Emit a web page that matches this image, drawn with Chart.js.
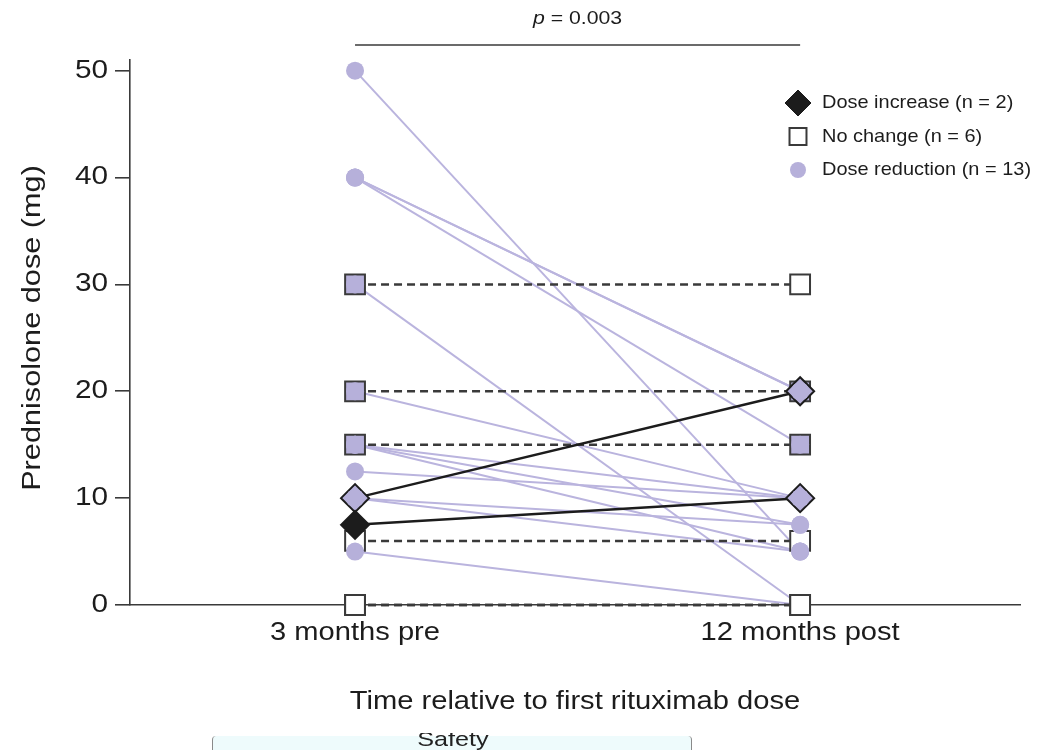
<!DOCTYPE html>
<html>
<head>
<meta charset="utf-8">
<title>Prednisolone dose before and after rituximab</title>
<script src="https://cdn.jsdelivr.net/npm/chart.js@4.4.1/dist/chart.umd.min.js"></script>
<style>
  html, body { margin: 0; padding: 0; background: #ffffff; }
  #wrap { position: relative; width: 1046px; height: 750px; overflow: hidden; }
  #chart { position: absolute; left: 0; top: 0; }
  #next { position: absolute; left: 206px; top: 733px; width: 494px; height: 17px; overflow: hidden; }
  #next .box { position: absolute; left: 6px; top: 3px; width: 478px; height: 40px;
    background: #eefbfc; border-left: 1px solid #8a8a8a; border-right: 1px solid #8a8a8a; border-radius: 4px; }
  #next .txt { position: absolute; left: 0; width: 494px; top: -6px; text-align: center;
    font: 21px "Liberation Sans", Arial, sans-serif; color: #222; transform: scaleX(1.2); }
</style>
</head>
<body>
<div id="wrap">
  <canvas id="chart" width="1046" height="750"></canvas>
  <div id="next"><div class="box"></div><div class="txt">Safety</div></div>
</div>
<script>
// Time points on the x axis
const timepoints = ['3 months pre', '12 months post'];
// Dose axis ticks (mg)
const doseTicks = [0, 10, 20, 30, 40, 50];

// Patients whose dose went up
const increasePre  = [10, 7.5];
const increasePost = [20, 10];
// Patients with unchanged dose
const noChangePre  = [30, 20, 15, 6, 0, 0];
const noChangePost = [30, 20, 15, 6, 0, 0];
// Patients whose dose went down
const reductionPre  = [50, 40, 40, 40, 30, 20, 15, 15, 15, 12.5, 10, 10, 5];
const reductionPost = [5, 20, 20, 15, 0, 10, 10, 7.5, 5, 10, 5, 7.5, 0];

const pValueText = '0.003';

const LAVENDER = '#b6b0da';
const LAVENDER_LINE = '#bab4de';
const INK = '#1c1c1c';
const GREY = '#3a3a3a';
const FONT = '"Liberation Sans", Arial, sans-serif';

const groups = {
  increase: { label: `Dose increase (n = ${increasePre.length})`, pre: increasePre, post: increasePost },
  noChange: { label: `No change (n = ${noChangePre.length})`, pre: noChangePre, post: noChangePost },
  reduction: { label: `Dose reduction (n = ${reductionPre.length})`, pre: reductionPre, post: reductionPost }
};

// Does a visible dose-reduction marker sit at this time point / dose?
// (reductions to 0 mg end under the white baseline squares)
function hasReduction(t, v) {
  const arr = t === 0 ? reductionPre : reductionPost;
  return v > 0 && arr.includes(v);
}

function pairLines(pre, post, style) {
  return pre.map((v, i) => Object.assign({
    type: 'line',
    data: [{ x: 0, y: v }, { x: 1, y: post[i] }],
    pointRadius: 0,
    fill: false,
    tension: 0,
    clip: false
  }, style));
}

function markerPoints(pre, post) {
  return pre.map(v => ({ x: 0, y: v })).concat(post.map(v => ({ x: 1, y: v })));
}

const incPts = markerPoints(increasePre, increasePost);
const ncPts = markerPoints(noChangePre, noChangePost);
const redPts = markerPoints(reductionPre, reductionPost);

// lower order is painted later (on top): lines first, then squares, diamonds, circles
const datasets = [
  ...pairLines(reductionPre, reductionPost, { borderColor: LAVENDER_LINE, borderWidth: 2, order: 6 }),
  ...pairLines(noChangePre, noChangePost, { borderColor: GREY, borderWidth: 2.5, borderDash: [8, 5], order: 5 }),
  ...pairLines(increasePre, increasePost, { borderColor: INK, borderWidth: 2.5, order: 4 }),
  {
    type: 'scatter', data: ncPts, order: 3, clip: false,
    pointStyle: 'rect', pointRadius: 14, pointBorderWidth: 2, pointBorderColor: GREY,
    pointBackgroundColor: ncPts.map(p => hasReduction(p.x, p.y) ? LAVENDER : '#ffffff')
  },
  {
    type: 'scatter', data: incPts, order: 2, clip: false,
    pointStyle: 'rectRot', pointRadius: 14, pointBorderWidth: 2, pointBorderColor: INK,
    pointBackgroundColor: incPts.map(p => hasReduction(p.x, p.y) ? LAVENDER : INK)
  },
  {
    type: 'scatter', data: redPts, order: 1, clip: false,
    pointStyle: 'circle', pointRadius: redPts.map(p => p.y > 0 ? 9 : 0), pointBorderWidth: 0,
    pointBackgroundColor: LAVENDER, pointBorderColor: LAVENDER
  }
];

// Wide sans text, drawn with a horizontal stretch
function stretchText(ctx, text, x, y, size, sx, align, opts = {}) {
  ctx.save();
  ctx.font = `${opts.italic ? 'italic ' : ''}${size}px ${FONT}`;
  ctx.fillStyle = opts.color || INK;
  ctx.textAlign = align;
  ctx.textBaseline = opts.baseline || 'middle';
  ctx.translate(x, y);
  if (opts.rotate) ctx.rotate(opts.rotate);
  ctx.scale(sx, 1);
  ctx.fillText(text, 0, 0);
  ctx.restore();
}

const textPlugin = {
  id: 'textLayer',
  afterDraw(chart) {
    const ctx = chart.ctx;
    const xs = chart.scales.x, ys = chart.scales.y;
    const area = chart.chartArea;

    // y tick labels
    ys.ticks.forEach(t => {
      stretchText(ctx, String(t.value), 108, ys.getPixelForValue(t.value), 25, 1.19, 'right');
    });
    // x tick labels
    xs.ticks.forEach(t => {
      stretchText(ctx, timepoints[t.value], xs.getPixelForValue(t.value), 633, 26, 1.12, 'center');
    });
    // axis titles
    stretchText(ctx, 'Time relative to first rituximab dose', (area.left + area.right) / 2, 702, 26, 1.12, 'center');
    stretchText(ctx, 'Prednisolone dose (mg)', 33, 328, 26, 1.18, 'center', { rotate: -Math.PI / 2 });

    // significance bar between the two time points
    const x0 = xs.getPixelForValue(0), x1 = xs.getPixelForValue(1);
    ctx.save();
    ctx.strokeStyle = GREY;
    ctx.lineWidth = 1.6;
    ctx.beginPath();
    ctx.moveTo(x0, 45);
    ctx.lineTo(x1, 45);
    ctx.stroke();
    ctx.restore();
    // p-value label, italic p
    ctx.save();
    const sx = 1.18, size = 18;
    ctx.font = `italic ${size}px ${FONT}`;
    const wP = ctx.measureText('p').width * sx;
    ctx.font = `${size}px ${FONT}`;
    const rest = ' = ' + pValueText;
    const wR = ctx.measureText(rest).width * sx;
    ctx.restore();
    const start = (x0 + x1) / 2 - (wP + wR) / 2;
    stretchText(ctx, 'p', start, 19, size, sx, 'left', { italic: true });
    stretchText(ctx, rest, start + wP, 19, size, sx, 'left');

    // legend
    const items = [
      { g: groups.increase, style: 'rectRot', r: 13, fill: INK, stroke: INK, bw: 1 },
      { g: groups.noChange, style: 'rect', r: 12, fill: '#ffffff', stroke: GREY, bw: 2 },
      { g: groups.reduction, style: 'circle', r: 8, fill: LAVENDER, stroke: LAVENDER, bw: 0 }
    ];
    const lx = 798, ly = 103, step = 33.5;
    items.forEach((it, i) => {
      const y = ly + i * step;
      ctx.save();
      ctx.fillStyle = it.fill;
      ctx.strokeStyle = it.stroke;
      ctx.lineWidth = it.bw;
      Chart.helpers.drawPoint(ctx, { pointStyle: it.style, radius: it.r, borderWidth: it.bw }, lx, y);
      ctx.restore();
      stretchText(ctx, it.g.label, 822, y, 19, 1.05, 'left');
    });
  }
};

new Chart(document.getElementById('chart'), {
  type: 'scatter',
  data: { datasets },
  plugins: [textPlugin],
  options: {
    responsive: false,
    animation: false,
    events: [],
    layout: { padding: { top: 60, right: 26, bottom: 0, left: 0 } },
    plugins: { legend: { display: false }, tooltip: { enabled: false } },
    scales: {
      x: {
        type: 'linear',
        min: -0.5056,
        max: 1.494,
        afterBuildTicks: s => { s.ticks = timepoints.map((_, i) => ({ value: i })); },
        afterFit: s => { s.height = 145; },
        ticks: { display: false },
        grid: { display: true, drawOnChartArea: false, drawTicks: false, color: 'rgba(0,0,0,0)' },
        border: { display: true, color: GREY, width: 1.6 }
      },
      y: {
        type: 'linear',
        min: 0,
        max: 51,
        afterBuildTicks: s => { s.ticks = doseTicks.map(v => ({ value: v })); },
        afterFit: s => { s.width = 130; },
        ticks: { display: false },
        grid: { drawOnChartArea: false, drawTicks: true, tickLength: 15, color: GREY, lineWidth: 1.6 },
        border: { display: true, color: GREY, width: 1.6 }
      }
    }
  }
});
</script>
</body>
</html>
